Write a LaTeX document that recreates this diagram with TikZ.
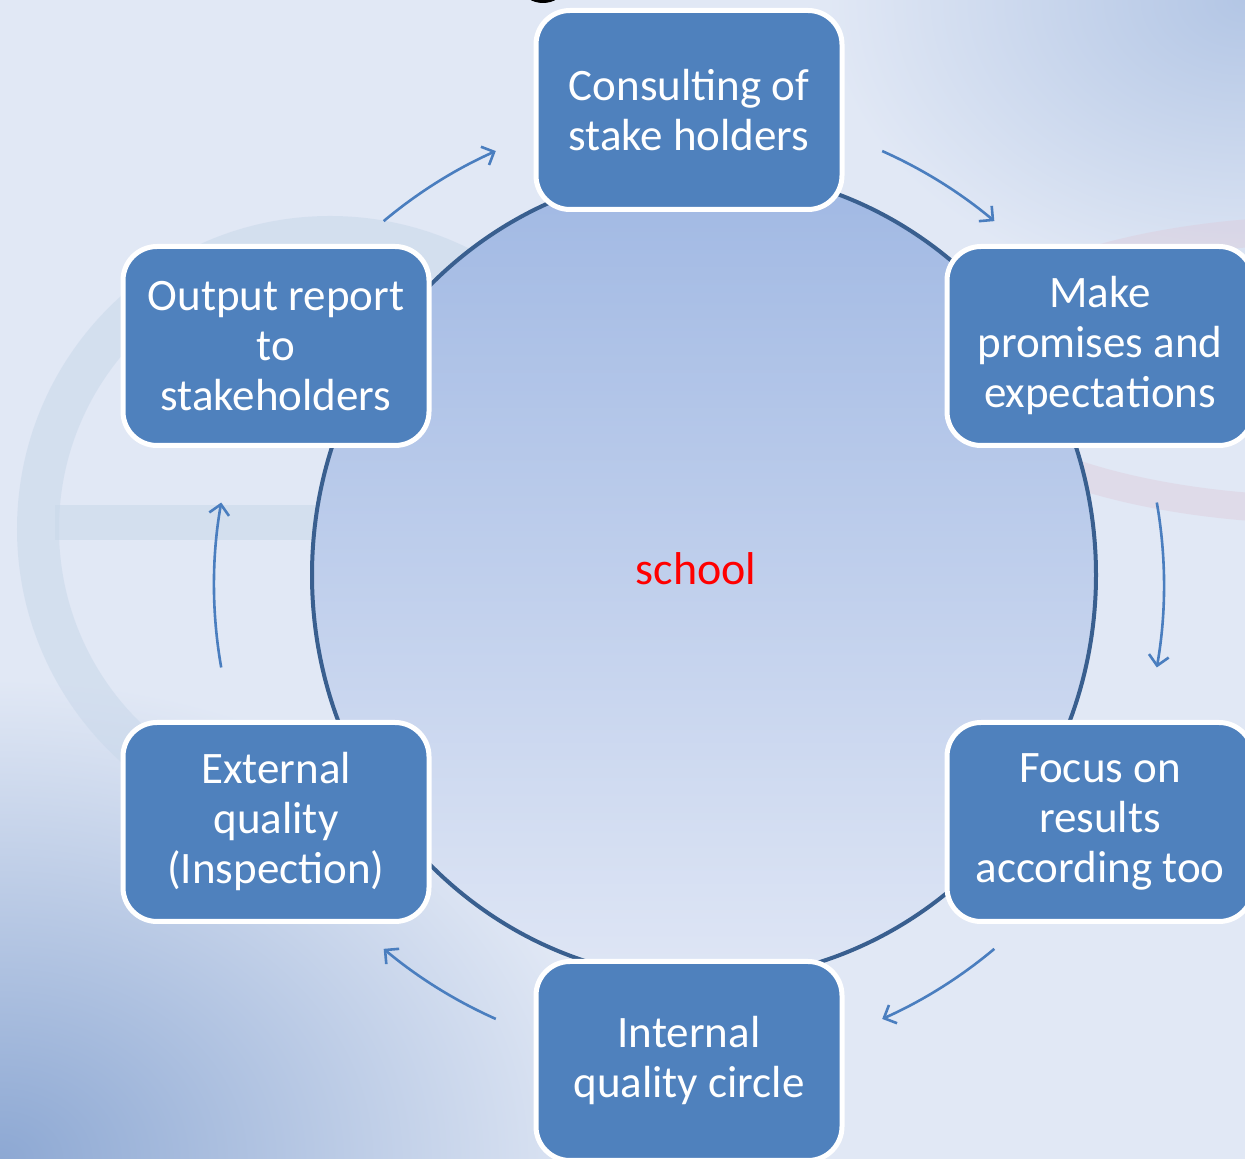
\documentclass[tikz,border=0pt]{standalone}
\usepackage{fontspec}
\setmainfont{Carlito}
\usetikzlibrary{arrows.meta,calc,shapes.geometric}
\definecolor{bg}{HTML}{E1E8F5}
\definecolor{boxblue}{HTML}{4F81BD}
\definecolor{ringc}{HTML}{C9D8EA}
\definecolor{pinkc}{HTML}{DDC9D8}
\definecolor{circtop}{HTML}{A0B8E3}
\definecolor{circbot}{HTML}{DFE6F5}
\definecolor{circline}{HTML}{395F8F}
\definecolor{arrc}{HTML}{4A7EBF}
\definecolor{cornerblue}{HTML}{8DA8D3}
\definecolor{cornertr}{HTML}{B3C6E5}
\begin{document}
\begin{tikzpicture}[x=1pt,y=1pt,
  stagebox/.style={draw=white, line width=5pt, fill=boxblue, rounded corners=34pt,
    minimum width=306pt, minimum height=199pt, inner sep=0pt, align=center,
    text=white, font=\fontsize{45}{50}\selectfont},
  cyc/.style={draw=arrc, line width=2.6pt,
    -{Straight Barb[length=10pt,width=20pt,line width=2.6pt]}},
  hubstyle/.style={ellipse, draw=circline, line width=4pt, top color=circtop,
    bottom color=circbot, minimum width=784pt, minimum height=810pt, inner sep=0pt}]
\useasboundingbox (0,0) rectangle (1245,1159);
\begin{scope}
\clip (0,0) rectangle (1245,1159);
% background
\fill[bg] (0,0) rectangle (1245,1159);
\shade[inner color=cornerblue, outer color=bg] (0,0) ellipse (620 and 480);
\shade[inner color=cornertr, outer color=bg] (1245,1159) ellipse (420 and 300);
% faint logo
\draw[ringc, line width=42pt, opacity=0.55] (330,630) circle (292);
\fill[ringc, opacity=0.55] (55,619) rectangle (330,654);
\draw[pinkc, line width=28pt, opacity=0.4] (1330,789) ellipse (380 and 140);
% fragment of title letter
\fill[black] (543,1170) ellipse (20 and 14);
% hub
\node[hubstyle] (hub) at (704,584) {};
\node[text=red, font=\fontsize{46}{50}\selectfont, anchor=base] (school) at (696,574) {school};
% stages
\node[stagebox] (consult) at (689,1049) {Consulting of\\stake holders};
\node[stagebox] (promise) at (1100,813) {Make\\promises and\\expectations};
\node[stagebox] (focus) at (1100,337) {Focus on\\results\\according too};
\node[stagebox] (internal) at (689,98) {Internal\\quality circle};
\node[stagebox] (external) at (276,337) {External\\quality\\(Inspection)};
\node[stagebox] (output) at (276,813) {Output report\\to\\stakeholders};
% cycle arrows
\coordinate (ac) at (689,574);
\path (ac) ++(130:475) coordinate (a1s);
\path (ac) ++(66:475) coordinate (a2s);
\path (ac) ++(10:475) coordinate (a3s);
\path (ac) ++(-50:475) coordinate (a4s);
\path (ac) ++(-114:475) coordinate (a5s);
\path (ac) ++(190:475) coordinate (a6s);
\draw[cyc] (a1s) arc[start angle=130, end angle=114, radius=475];
\draw[cyc] (a2s) arc[start angle=66, end angle=50, radius=475];
\draw[cyc] (a3s) arc[start angle=10, end angle=-10, radius=475];
\draw[cyc] (a4s) arc[start angle=-50, end angle=-66, radius=475];
\draw[cyc] (a5s) arc[start angle=-114, end angle=-130, radius=475];
\draw[cyc] (a6s) arc[start angle=190, end angle=170, radius=475];
\end{scope}
\end{tikzpicture}
\end{document}
